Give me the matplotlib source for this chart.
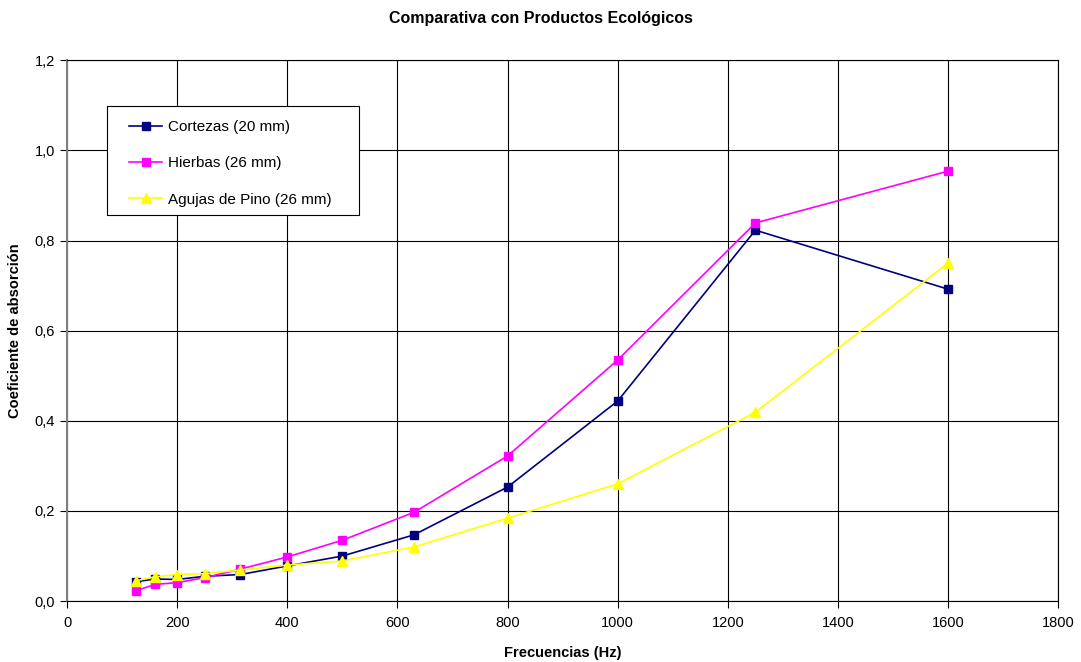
import matplotlib
matplotlib.use("Agg")
import matplotlib.pyplot as plt
from matplotlib.patches import Rectangle
from matplotlib.ticker import FuncFormatter, MultipleLocator

plt.rcParams['font.family'] = ['Liberation Sans', 'DejaVu Sans']

freqs = [125, 160, 200, 250, 315, 400, 500, 630, 800, 1000, 1250, 1600]
cortezas = [0.043, 0.049, 0.048, 0.055, 0.059, 0.078, 0.100, 0.147, 0.253, 0.444, 0.823, 0.692]
hierbas = [0.023, 0.037, 0.041, 0.052, 0.071, 0.098, 0.135, 0.197, 0.322, 0.535, 0.839, 0.954]
agujas = [0.045, 0.054, 0.059, 0.061, 0.069, 0.080, 0.089, 0.120, 0.184, 0.260, 0.419, 0.750]

fig = plt.figure(figsize=(10.81, 6.62), dpi=100)
ax = fig.add_axes([0.062, 0.092, 0.917, 0.817])

ax.plot(freqs, cortezas, color='#000080', marker='s', markersize=6, lw=1.2, label='Cortezas (20 mm)')
ax.plot(freqs, hierbas, color='#FF00FF', marker='s', markersize=6, lw=1.2, label='Hierbas (26 mm)')
ax.plot(freqs, agujas, color='#FFFF00', marker='^', markersize=7, lw=1.2, label='Agujas de Pino (26 mm)')

ax.set_xlim(0, 1800)
ax.set_ylim(0, 1.2)
ax.xaxis.set_major_locator(MultipleLocator(200))
ax.yaxis.set_major_locator(MultipleLocator(0.2))
ax.yaxis.set_major_formatter(FuncFormatter(lambda v, p: f"{v:.1f}".replace('.', ',')))
ax.grid(True, color='black', lw=0.8)
ax.set_axisbelow(True)
for s in ax.spines.values():
    s.set_color('black')
    s.set_linewidth(0.8)
ax.spines['left'].set_color('#808080')
ax.spines['left'].set_linewidth(1.5)
ax.tick_params(direction='out', length=5, labelsize=10.5, color='black')
ax.tick_params(axis='x', pad=6)

ax.set_xlabel('Frecuencias (Hz)', fontsize=10.5, fontweight='bold', labelpad=11)
ax.set_ylabel('Coeficiente de absorción', fontsize=10.5, fontweight='bold', labelpad=9)
fig.suptitle('Comparativa con Productos Ecológicos', fontsize=11.5, fontweight='bold', y=0.983)

# legend box drawn separately so padding can differ per side
ax.add_patch(Rectangle((0.0404, 0.7135), 0.2543, 0.2015, transform=ax.transAxes,
                       facecolor='white', edgecolor='black', lw=0.8, zorder=4))
leg = ax.legend(loc='upper left', bbox_to_anchor=(0.063, 0.889), fontsize=11, frameon=False,
                borderpad=0, labelspacing=1.45, handlelength=2.1, handletextpad=0.4,
                borderaxespad=0)
leg.set_zorder(5)

fig.savefig('out.png', dpi=100)
